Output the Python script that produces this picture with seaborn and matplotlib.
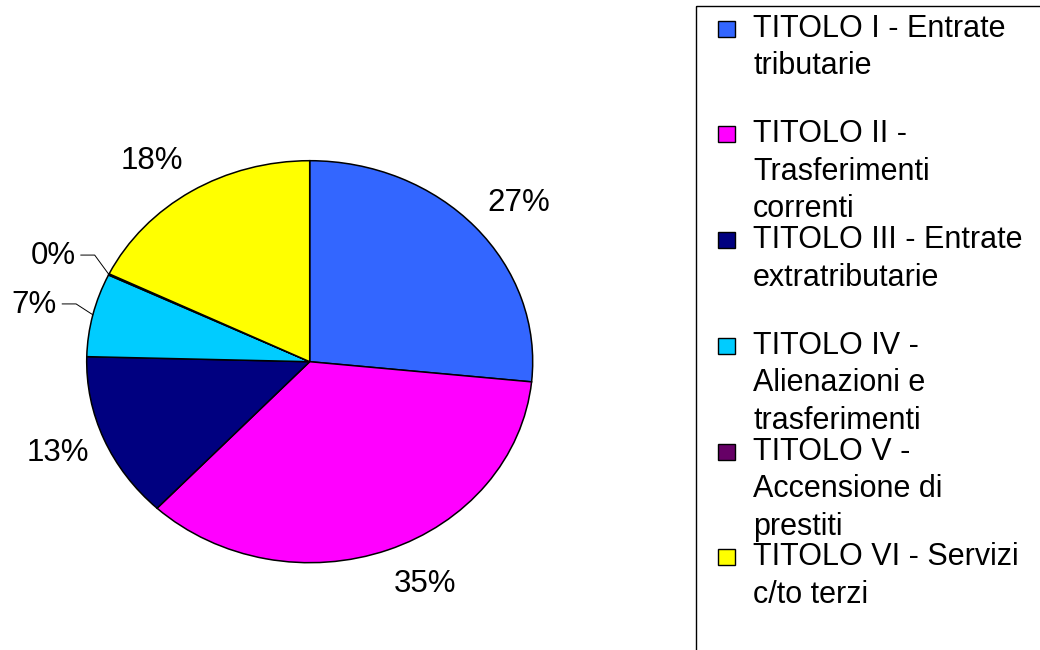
import matplotlib
matplotlib.use("Agg")
import matplotlib.pyplot as plt
from matplotlib.patches import Rectangle
import numpy as np
import seaborn as sns

# ---- data ----
categories = [
    "TITOLO I - Entrate\ntributarie",
    "TITOLO II -\nTrasferimenti\ncorrenti",
    "TITOLO III - Entrate\nextratributarie",
    "TITOLO IV -\nAlienazioni e\ntrasferimenti",
    "TITOLO V -\nAccensione di\nprestiti",
    "TITOLO VI - Servizi\nc/to terzi",
]
values = [26.6, 35.4, 13.4, 6.7, 0.1, 17.8]
colors = ["#3366FF", "#FF00FF", "#000080", "#00CCFF", "#660066", "#FFFF00"]

sns.set_theme(style="white")
plt.rcParams['font.family'] = ['Liberation Sans', 'DejaVu Sans']

W, H = 1040, 650
fig = plt.figure(figsize=(W / 100, H / 100), dpi=100)
fig.patch.set_facecolor("white")

# pie axes (slightly elliptical pie as in the reference)
cx, cy = 309.7, H - 361.7
rx, ry = 223.0, 201.0
hw, hh = 300.0, 280.0
ax = fig.add_axes([(cx - hw) / W, (cy - hh) / H, 2 * hw / W, 2 * hh / H])
wedges, _ = ax.pie(values, colors=colors, startangle=90, counterclock=False,
                   wedgeprops=dict(edgecolor="black", linewidth=1.1))
ax.set_aspect("auto")
ax.set_xlim(-hw / rx, hw / rx)
ax.set_ylim(-hh / ry, hh / ry)
ax.axis("off")

total = sum(values)
small_labels = []
for w, v in zip(wedges, values):
    mid = np.deg2rad((w.theta1 + w.theta2) / 2.0)
    c, s = np.cos(mid), np.sin(mid)
    small = v < 10
    dx, dy = (1.165, 1.21) if small else (1.072, 1.18)
    t = ax.text(c * dx, s * dy, f"{v / total * 100:.0f}%",
                ha="left" if c > 0 else "right", va="center",
                fontsize=22.5, color="black")
    if small:
        small_labels.append((t, c, s))

# leader lines for the small slices
fig.canvas.draw()
renderer = fig.canvas.get_renderer()
inv = ax.transData.inverted()
for t, c, s in small_labels:
    bb = t.get_window_extent(renderer)
    ymid = (bb.y0 + bb.y1) / 2.0 + 1
    p0 = (bb.x1 + 5, ymid)
    p1 = (bb.x1 + 19, ymid)
    p2 = ax.transData.transform((c, s))
    pts = inv.transform(np.array([p0, p1, p2]))
    ax.plot(pts[:, 0], pts[:, 1], color="black", lw=0.7, clip_on=False)

# ---- legend (drawn manually with fixed slot heights) ----
lax = fig.add_axes([0, 0, 1, 1])
lax.set_xlim(0, W)
lax.set_ylim(H, 0)
lax.axis("off")
lax.patch.set_alpha(0)
lax.add_patch(Rectangle((696, 6), 400, 700, fill=False, edgecolor="black",
                        lw=1.0, clip_on=True))
first_base, slot, line_h = 36.7, 105.7, 37.5
for i, (lab, col) in enumerate(zip(categories, colors)):
    base = first_base + i * slot
    lax.add_patch(Rectangle((718, base - 16), 17, 16, facecolor=col,
                            edgecolor="black", lw=1.0))
    for j, line in enumerate(lab.split("\n")):
        lax.text(753, base + j * line_h, line, ha="left", va="baseline",
                 fontsize=22, color="black")

fig.savefig("out.png", dpi=100, facecolor="white")
